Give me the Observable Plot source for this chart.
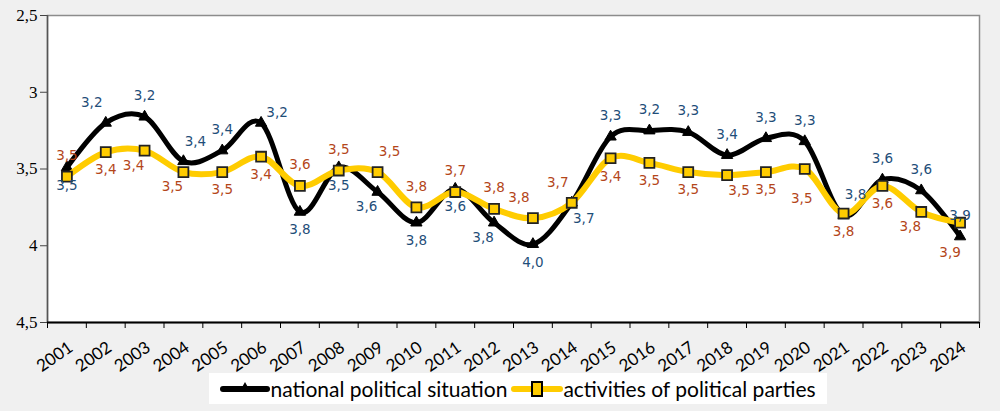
<!DOCTYPE html>
<html><head><meta charset="utf-8">
<script src="https://cdn.jsdelivr.net/npm/d3@7"></script>
<script src="https://cdn.jsdelivr.net/npm/@observablehq/plot@0.6"></script>
<style>
html,body{margin:0;padding:0;background:#f0f0f0;}
#wrap{width:1000px;height:411px;position:relative;overflow:hidden;}
#legend{position:absolute;left:209px;top:373px;width:618px;height:31px;background:#fff;display:flex;align-items:center;justify-content:center;font-family:Lato,"Open Sans",sans-serif;font-size:21px;color:#000;white-space:nowrap;}
#legend svg{display:block;}
#legend span{margin-right:4px;}
.ylab text{font-family:"Liberation Serif","Times New Roman",serif !important;font-size:17px !important;}
</style></head><body>
<div id="wrap"><div id="chart"></div><div id="legend"></div></div>
<script>
const years = [2001,2002,2003,2004,2005,2006,2007,2008,2009,2010,2011,2012,2013,2014,2015,2016,2017,2018,2019,2020,2021,2022,2023,2024];
const national = [3.49,3.20,3.16,3.45,3.38,3.20,3.78,3.49,3.65,3.85,3.63,3.85,3.99,3.72,3.29,3.25,3.26,3.41,3.30,3.32,3.80,3.57,3.64,3.94];
const parties  = [3.55,3.39,3.38,3.52,3.52,3.42,3.61,3.51,3.52,3.75,3.65,3.76,3.82,3.72,3.43,3.46,3.52,3.54,3.52,3.50,3.79,3.61,3.78,3.85];
const nationalLabels = ["3,5","3,2","3,2","3,4","3,4","3,2","3,8","3,5","3,6","3,8","3,6","3,8","4,0","3,7","3,3","3,2","3,3","3,4","3,3","3,3","3,8","3,6","3,6","3,9"];
const partiesLabels  = ["3,5","3,4","3,4","3,5","3,5","3,4","3,6","3,5","3,5","3,8","3,7","3,8","3,8","3,7","3,4","3,5","3,5","3,5","3,5","3,5","3,8","3,6","3,8","3,9"];
const nationalSide = ["b","tl","t","tr","t","r","b","b","bl","b","b","bl","b","br","t","t","t","t","t","t","tr","t","t","t"];
const partiesSide  = ["t","b","bl","bl","b","b","t","t","tr","t","t","t","tl","tl","b","b","b","br","b","bb","b","b","bl","bbl"];
const yTicks = [2.5,3,3.5,4,4.5];
const seriesNames = ["national political situation","activities of political parties"];

const offsets = {t:[0,-21],b:[0,18],tl:[-14,-20],tr:[12,-20],bl:[-11,15],br:[12,16],r:[16,-10],bb:[-3,30],bbl:[-10,30]};
const rowsN = years.map((y,i)=>({year:y,v:national[i],label:nationalLabels[i],side:nationalSide[i]}));
const rowsP = years.map((y,i)=>({year:y,v:parties[i],label:partiesLabels[i],side:partiesSide[i]}));
const boundaries = [years[0]-0.5, ...years.map(y=>y+0.5)];
const fmt = d => String(d).replace(".", ",");
const blank = () => "";

const blue = "#1F4E79", orange = "#B4461A", yellow = "#FFCC00";

function labels(rows, color){
  return Object.keys(offsets).map(k => Plot.text(rows.filter(r=>r.side===k), {
    x:"year", y:"v", text:"label", dx:offsets[k][0], dy:offsets[k][1],
    fill:color, fontSize:13.5, fontFamily:"DejaVu Sans"
  }));
}

const chart = Plot.plot({
  width:1000, height:370,
  marginLeft:47, marginRight:21, marginTop:15, marginBottom:48,
  style:{background:"transparent", overflow:"visible"},
  x:{type:"linear", domain:[years[0]-0.5, years[years.length-1]+0.5]},
  y:{domain:[2.5,4.5], reverse:true},
  marks:[
    Plot.frame({fill:"white", stroke:"#8c8c8c", strokeWidth:1.5}),
    Plot.axisY({ticks:yTicks, tickFormat:blank, tickSize:7, stroke:"#444", label:null}),
    Plot.text(yTicks, {x:()=>years[0]-0.5, y:d=>d, text:fmt, textAnchor:"end", dx:-10, fontSize:17, fontFamily:"Liberation Serif", fill:"#000", className:"ylab"}),
    Plot.axisX({ticks:boundaries, tickFormat:blank, tickSize:6, stroke:"#000", label:null}),
    Plot.ruleX([years[0]-0.5], {stroke:"#555", strokeWidth:1.5}),
    Plot.ruleY([4.5], {stroke:"#000", strokeWidth:2}),
    Plot.text(years, {x:d=>d, y:()=>4.5, text:d=>String(d), rotate:-35, textAnchor:"end", dx:4, dy:23, fontSize:17, fontFamily:"Lato", fill:"#000"}),
    Plot.line(rowsN, {x:"year", y:"v", stroke:"#000", strokeWidth:5, curve:"cardinal", tension:0}),
    Plot.dot(rowsN, {x:"year", y:"v", symbol:"triangle", r:4.2, fill:"#000", stroke:"#000", strokeWidth:1}),
    Plot.line(rowsP, {x:"year", y:"v", stroke:yellow, strokeWidth:6, curve:"cardinal", tension:0}),
    Plot.dot(rowsP, {x:"year", y:"v", symbol:"square", r:5.6, fill:yellow, stroke:"#222", strokeWidth:1.8}),
    ...labels(rowsN, blue),
    ...labels(rowsP, orange)
  ]
});
document.getElementById("chart").appendChild(chart);

const lg = document.getElementById("legend");
lg.innerHTML =
  `<svg width="50" height="20"><line x1="3" y1="10" x2="47" y2="10" stroke="#000" stroke-width="6" stroke-linecap="round"/><path d="M25,3 L30,12 L20,12 Z" fill="#000"/></svg>` +
  `<span>${seriesNames[0]}</span>` +
  `<svg width="52" height="22"><line x1="3" y1="11" x2="49" y2="11" stroke="${yellow}" stroke-width="6" stroke-linecap="round"/><rect x="21" y="4" width="10" height="14" fill="${yellow}" stroke="#000" stroke-width="2"/></svg>` +
  `<span style="margin-right:0">${seriesNames[1]}</span>`;
</script>
</body></html>
